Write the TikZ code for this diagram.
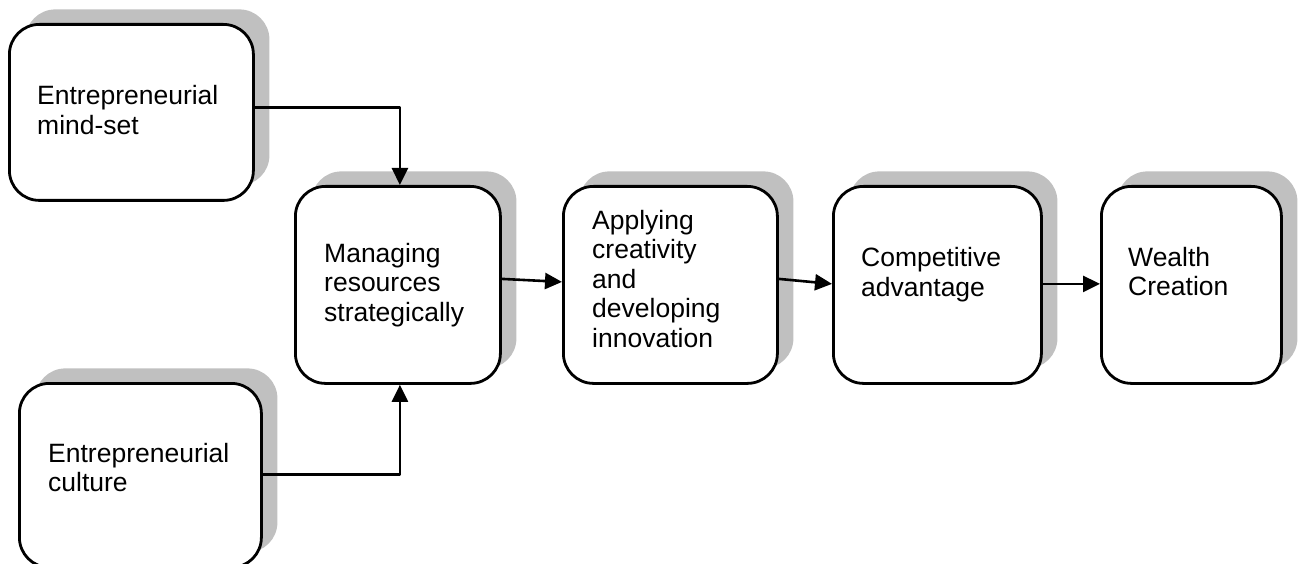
\documentclass[tikz,border=0pt]{standalone}
\usepackage{fontspec}
\setmainfont{Liberation Sans}
\usetikzlibrary{arrows.meta,shadows}
\definecolor{shadowgray}{RGB}{192,192,192}
\tikzset{
  stage/.style={draw, line width=2.8pt, rounded corners=30pt, fill=white, anchor=north west, inner sep=0pt,
    drop shadow={shadow xshift=16pt, shadow yshift=15pt, fill=shadowgray, opacity=1}},
  caption/.style={anchor=base west, align=left, inner sep=0pt, font=\fontsize{26.5}{29.5}\selectfont},
  flow/.style={line width=2.6pt, -{Triangle[length=17pt,width=16pt]}}
}

\begin{document}
\begin{tikzpicture}[x=1pt, y=-1pt, line join=round]
                \useasboundingbox (0,0) rectangle (1299,564);
                \foreach \name/\x/\y/\w/\h in {mindset/8/23/244pt/176pt, managing/294/185/205pt/197pt,
                    applying/562/185/214pt/197pt, advantage/832/185/208pt/197pt,
                    wealth/1100/185/180pt/197pt, culture/18/382/242pt/184pt}
                    \node[stage, minimum width=\w, minimum height=\h] (\name) at (\x,\y) {};
                % anchored at the baseline of the last line
                \foreach \name/\x/\y/\txt in {mindset/37/134.5/{Entrepreneurial\\mind-set},
                    managing/324/321/{Managing\\resources\\strategically},
                    applying/592/347/{Applying\\creativity\\and\\developing\\innovation},
                    advantage/861/296.5/{Competitive\\advantage},
                    wealth/1128/295.5/{Wealth\\Creation},
                    culture/48/491.5/{Entrepreneurial\\culture}}
                    \node[caption] (\name-text) at (\x,\y) {\txt};
                \draw[flow] ([yshift=5pt]mindset.east) -| ([xshift=2pt]managing.north);
                \draw[flow] ([yshift=1pt]culture.east) -| ([xshift=2pt]managing.south);
                \draw[flow] ([yshift=6pt]managing.east) -- ([yshift=3pt]applying.west);
                \draw[flow] ([yshift=6pt]applying.east) -- ([yshift=1pt]advantage.west);
                \draw[flow] ([yshift=1pt]advantage.east) -- ([yshift=1pt]wealth.west);
\end{tikzpicture}
\end{document}
